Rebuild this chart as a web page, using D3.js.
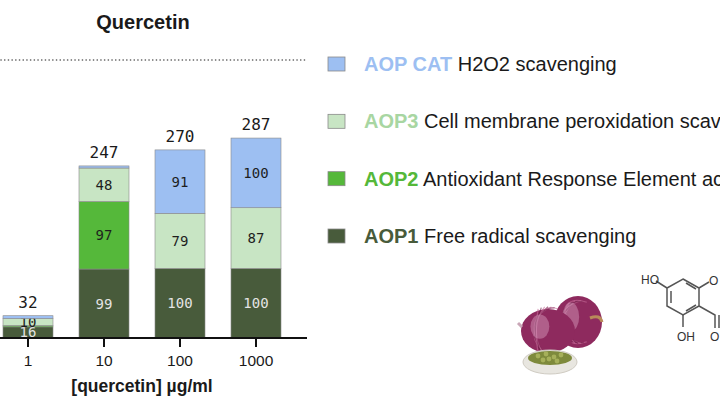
<!DOCTYPE html>
<html>
<head>
<meta charset="utf-8">
<script src="https://cdn.jsdelivr.net/npm/d3@7"></script>
<style>
  body { margin: 0; background: #fff; }
  svg { display: block; }
</style>
</head>
<body>
<svg id="chart" width="720" height="405"></svg>
<script>
// data
const doses = ["1", "10", "100", "1000"];
const aop1 = [16, 99, 100, 100];
const aop2 = [2, 97, 0, 0];
const aop3 = [10, 48, 79, 87];
const aopCat = [4, 3, 91, 100];
const totals = [32, 247, 270, 287];

const seriesKeys = ["aop1", "aop2", "aop3", "cat"];
const seriesColors = { aop1: "#485b3b", aop2: "#55b83a", aop3: "#c8e5c4", cat: "#9dbff2" };
const labelColors = { aop1: "#e4e4e4", aop2: "#1e1e1e", aop3: "#1e1e1e", cat: "#1e1e1e" };

const legendItems = [
  { key: "cat", tag: "AOP CAT", text: "H2O2 scavenging" },
  { key: "aop3", tag: "AOP3", text: "Cell membrane peroxidation scavenging" },
  { key: "aop2", tag: "AOP2", text: "Antioxidant Response Element activation" },
  { key: "aop1", tag: "AOP1", text: "Free radical scavenging" }
];

const rows = doses.map((d, i) => ({
  dose: d, aop1: aop1[i], aop2: aop2[i], aop3: aop3[i], cat: aopCat[i], total: totals[i]
}));

const svg = d3.select("#chart");
const baseY = 338;

const x = d3.scaleBand()
  .domain(doses)
  .range([-10, 294])
  .paddingInner(0.342)
  .paddingOuter(0.171);

const y = d3.scaleLinear().domain([0, 300]).range([baseY, 129]);

const stack = d3.stack().keys(seriesKeys);
const layers = stack(rows);

// title + dotted line
svg.append("text")
  .attr("x", 143).attr("y", 29)
  .attr("text-anchor", "middle")
  .attr("font-family", "Liberation Sans, Arial, sans-serif")
  .attr("font-weight", "bold")
  .attr("font-size", 20)
  .attr("fill", "#1a1a1a")
  .text("Quercetin");

svg.append("line")
  .attr("x1", 1).attr("x2", 305)
  .attr("y1", 60).attr("y2", 60)
  .attr("stroke", "#555")
  .attr("stroke-width", 1.6)
  .attr("stroke-linecap", "round")
  .attr("stroke-dasharray", "0.1,3.6");

// bars
const g = svg.append("g");
layers.forEach(layer => {
  const key = layer.key;
  g.selectAll(".seg-" + key)
    .data(layer)
    .join("rect")
    .attr("x", d => x(d.data.dose))
    .attr("y", d => y(d[1]))
    .attr("width", x.bandwidth())
    .attr("height", d => y(d[0]) - y(d[1]))
    .attr("fill", seriesColors[key])
    .attr("stroke", d => (d[1] - d[0]) > 0 ? "#8a8a8a" : "none")
    .attr("stroke-width", 0.6);

  g.selectAll(".lab-" + key)
    .data(layer.filter(d => d[1] - d[0] >= 10))
    .join("text")
    .attr("x", d => x(d.data.dose) + x.bandwidth() / 2)
    .attr("y", d => (y(d[0]) + y(d[1])) / 2 + 5)
    .attr("text-anchor", "middle")
    .attr("font-family", "DejaVu Sans Mono, monospace")
    .attr("font-size", 14)
    .attr("fill", labelColors[key])
    .text(d => d[1] - d[0]);
});

// totals
g.selectAll(".total")
  .data(rows)
  .join("text")
  .attr("x", d => x(d.dose) + x.bandwidth() / 2)
  .attr("y", d => y(d.total) - 8)
  .attr("text-anchor", "middle")
  .attr("font-family", "DejaVu Sans Mono, monospace")
  .attr("font-size", 16)
  .attr("fill", "#1a1a1a")
  .text(d => d.total);

// x axis
const axis = svg.append("g")
  .attr("transform", `translate(0,${baseY})`)
  .call(d3.axisBottom(x).tickSize(9).tickSizeOuter(0).tickPadding(8));
axis.select(".domain").remove();
axis.selectAll(".tick line").attr("stroke", "#111").attr("stroke-width", 2);
axis.selectAll(".tick text")
  .attr("font-family", "Liberation Sans, Arial, sans-serif")
  .attr("font-size", 15.5)
  .attr("fill", "#1a1a1a");
svg.append("line")
  .attr("x1", 0).attr("x2", 307)
  .attr("y1", baseY).attr("y2", baseY)
  .attr("stroke", "#111").attr("stroke-width", 2);

svg.append("text")
  .attr("x", 142).attr("y", 392)
  .attr("text-anchor", "middle")
  .attr("font-family", "Liberation Sans, Arial, sans-serif")
  .attr("font-weight", "bold")
  .attr("font-size", 17.5)
  .attr("fill", "#1a1a1a")
  .text("[quercetin] µg/ml");

// legend
const legendY = d3.scalePoint().domain(legendItems.map(d => d.key)).range([64, 236]);
const leg = svg.append("g").selectAll("g")
  .data(legendItems)
  .join("g")
  .attr("transform", d => `translate(328,${legendY(d.key)})`);
leg.append("rect")
  .attr("x", 0).attr("y", -7)
  .attr("width", 17).attr("height", 14)
  .attr("fill", d => seriesColors[d.key])
  .attr("stroke", "#8a8a8a").attr("stroke-width", 0.8);
const lt = leg.append("text")
  .attr("x", 36).attr("y", 7)
  .attr("font-family", "Liberation Sans, Arial, sans-serif")
  .attr("font-size", 20);
lt.append("tspan")
  .attr("font-weight", "bold")
  .attr("fill", d => d.key === "aop3" ? "#a8d6a2" : seriesColors[d.key])
  .text(d => d.tag);
lt.append("tspan")
  .attr("fill", "#1a1a1a")
  .text(d => " " + d.text);

// decoration: onions and capers
const deco = svg.append("g");
const onion = (cx, cy, rx, ry) => {
  const og = deco.append("g");
  og.append("ellipse").attr("cx", cx).attr("cy", cy).attr("rx", rx).attr("ry", ry).attr("fill", "#8e2a5e");
  for (let k = -3; k <= 3; k++) {
    og.append("path")
      .attr("d", `M${cx - rx * 0.9},${cy} Q${cx + k * rx * 0.25},${cy - ry * 1.3} ${cx + rx * 0.9},${cy}`)
      .attr("transform", `rotate(${-90 + k * 8},${cx},${cy})`)
      .attr("fill", "none").attr("stroke", k % 2 ? "#c76a9a" : "#6a1a44")
      .attr("stroke-width", 1.2).attr("opacity", 0.6);
  }
  og.append("ellipse").attr("cx", cx - rx * 0.3).attr("cy", cy - ry * 0.2).attr("rx", rx * 0.35).attr("ry", ry * 0.55)
    .attr("fill", "#d9a0c2").attr("opacity", 0.45);
};
onion(578, 322, 24, 26);
deco.append("path").attr("d", "M590,318 q10,-4 12,4").attr("stroke", "#b88a5a").attr("stroke-width", 3).attr("fill", "none");
onion(548, 331, 27, 22);
deco.append("path").attr("d", "M522,327 l-4,-4").attr("stroke", "#c9a7b7").attr("stroke-width", 3);
deco.append("ellipse").attr("cx", 550).attr("cy", 362).attr("rx", 27).attr("ry", 12).attr("fill", "#e8e6e0").attr("stroke", "#cfcbc2");
deco.append("ellipse").attr("cx", 550).attr("cy", 358).attr("rx", 22).attr("ry", 7).attr("fill", "#7e8a3c");
[[538, 356], [546, 354], [554, 357], [561, 355], [543, 360], [557, 361], [549, 359]].forEach(p => {
  deco.append("circle").attr("cx", p[0]).attr("cy", p[1]).attr("r", 2.4).attr("fill", "#a6b05a");
});

// decoration: part of the quercetin molecule
const mol = svg.append("g").attr("stroke", "#555").attr("stroke-width", 1.5).attr("fill", "none");
mol.append("path").attr("d", "M683,279 L699,288 L699,306 L683,315 L667,306 L667,288 Z");
mol.append("path").attr("d", "M671,291 L671,303 M686,283 L696,289 M686,311 L696,305");
mol.append("path").attr("d", "M667,288 L656,281 M683,315 L683,327 M699,288 L709,282 M699,306 L715,315 L715,328");
mol.append("path").attr("d", "M719,315 L719,328");
const molText = svg.append("g")
  .attr("font-family", "Liberation Sans, Arial, sans-serif")
  .attr("font-size", 12).attr("fill", "#333");
molText.append("text").attr("x", 641).attr("y", 284).text("HO");
molText.append("text").attr("x", 677).attr("y", 341).text("OH");
molText.append("text").attr("x", 709).attr("y", 285).text("O");
molText.append("text").attr("x", 710).attr("y", 341).text("O");
</script>
</body>
</html>
